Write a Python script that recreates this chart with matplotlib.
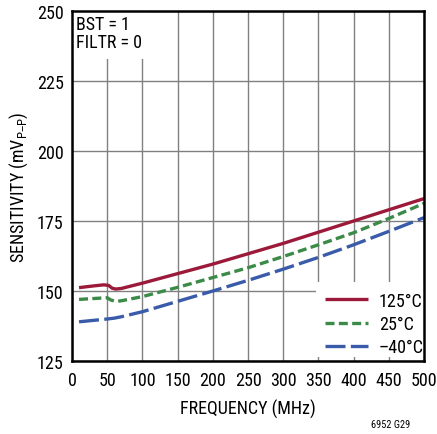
import matplotlib
matplotlib.use("Agg")
import matplotlib.pyplot as plt
from matplotlib.patches import Rectangle
from matplotlib import font_manager as fm

avail = set(f.name for f in fm.fontManager.ttflist)
cands = ['Roboto Condensed', 'Liberation Sans Narrow', 'Archivo Narrow', 'PT Sans Narrow',
         'Open Sans Condensed', 'Fira Sans Condensed', 'IBM Plex Sans Condensed', 'Liberation Sans']
fam = [c for c in cands if c in avail][:1] + ['DejaVu Sans']
plt.rcParams['font.family'] = fam

freq_125 = [10, 30, 45, 52, 57, 62, 70, 100, 150, 200, 250, 300, 350, 400, 450, 500]
sens_125 = [151.2, 151.8, 152.2, 152.0, 151.0, 150.7, 150.9, 152.8, 156.2, 159.6, 163.3, 167.0, 171.0, 175.0, 179.0, 183.0]

freq_25 = [10, 30, 50, 55, 62, 70, 100, 150, 200, 250, 300, 350, 400, 450, 500]
sens_25 = [147.0, 147.3, 147.6, 146.8, 146.3, 146.5, 148.0, 151.3, 154.8, 158.3, 162.3, 166.5, 170.8, 175.9, 181.3]

freq_m40 = [10, 30, 50, 60, 70, 100, 150, 200, 250, 300, 350, 400, 450, 500]
sens_m40 = [139.0, 139.5, 140.0, 140.3, 140.8, 142.6, 146.3, 150.0, 153.8, 157.8, 162.0, 166.5, 171.3, 176.2]

labels = ['125°C', '25°C', '–40°C']
colors = ['#9B1A3A', '#3C8A47', '#3A5BAA']
x_ticks = [0, 50, 100, 150, 200, 250, 300, 350, 400, 450, 500]
y_ticks = [125, 150, 175, 200, 225, 250]

fig = plt.figure(figsize=(4.37, 4.35), dpi=100)
ax = fig.add_axes([72/437, 1-362/435, 352/437, 350/435])
ax.set_xlim(0, 500)
ax.set_ylim(125, 250)
ax.set_xticks(x_ticks)
ax.set_yticks(y_ticks)
ax.tick_params(axis='both', length=0, labelsize=13)
ax.tick_params(axis='x', pad=7)
ax.tick_params(axis='y', pad=6)
ax.grid(True, color='#808080', linewidth=1.0, zorder=1)
ax.set_axisbelow(True)
for s in ax.spines.values():
    s.set_linewidth(1.8)
    s.set_color('black')
    s.set_zorder(10)

# white blanking areas behind text and legend
ax.add_patch(Rectangle((0, 1-(60-12)/350), (150-72)/352, (60-12)/350,
                       transform=ax.transAxes, facecolor='white', edgecolor='none', zorder=1.5))
ax.add_patch(Rectangle(((316-72)/352, (362-358)/350), 1-(316-72)/352, (358-283)/350,
                       transform=ax.transAxes, facecolor='white', edgecolor='none', zorder=1.5))

l1, = ax.plot(freq_125, sens_125, color=colors[0], lw=2.4, solid_capstyle='butt', zorder=3)
l2, = ax.plot(freq_25, sens_25, color=colors[1], lw=2.4, dashes=(2.7, 1.3), zorder=3)
l3, = ax.plot(freq_m40, sens_m40, color=colors[2], lw=2.4, dashes=(6.0, 1.6), zorder=3)

leg = ax.legend([l1, l2, l3], labels, loc='upper left',
                bbox_to_anchor=((321-72)/352, (362-289)/350), frameon=False,
                fontsize=13, handlelength=2.4, handletextpad=0.6, labelspacing=0.3,
                borderaxespad=0, borderpad=0.2)
leg.set_zorder(5)

ax.text(0.012, 0.99, 'BST = 1\nFILTR = 0', transform=ax.transAxes, ha='left', va='top',
        fontsize=13, linespacing=1.05, zorder=6)

ax.set_xlabel('FREQUENCY (MHz)', fontsize=13, labelpad=7)
ax.set_ylabel('SENSITIVITY (mV$_{\\mathregular{P–P}}$)', fontsize=13, labelpad=5)

fig.text(410/437, 1-425/435, '6952 G29', ha='right', va='center', fontsize=7.5)

fig.savefig('out.png', dpi=100)
